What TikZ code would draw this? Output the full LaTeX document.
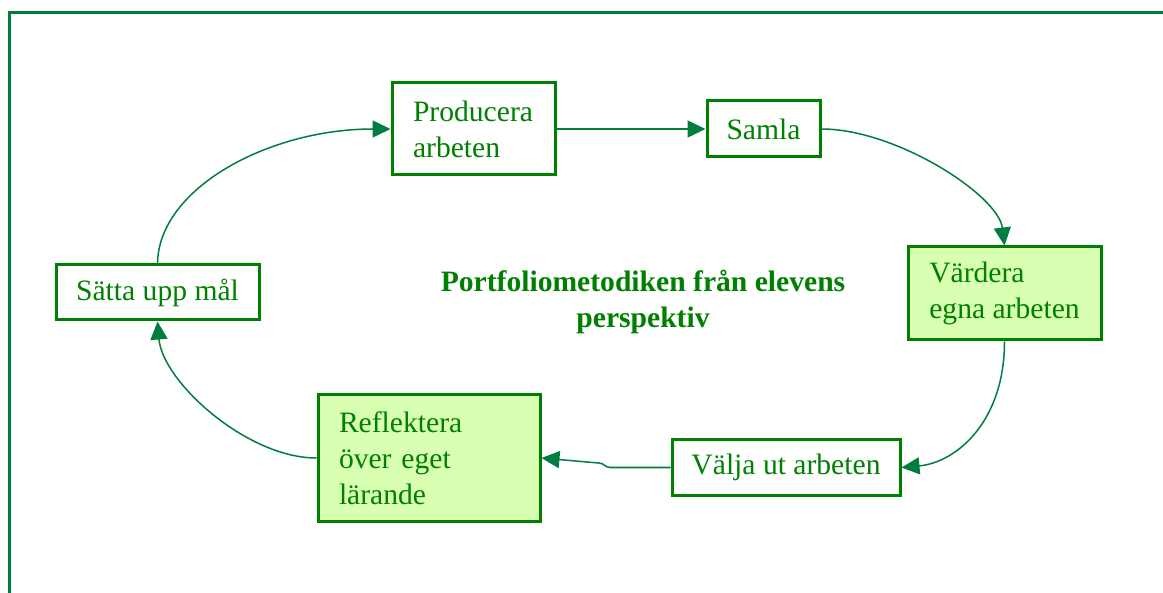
\documentclass[tikz,border=0pt]{standalone}
\usepackage{fontspec}
\setmainfont{Liberation Serif}
\usetikzlibrary{arrows.meta}

\newlength{\du}
\setlength{\du}{0.5pt}

\definecolor{boxcolor}{rgb}{0.000000, 0.501961, 0.000000}
\definecolor{linecolor}{rgb}{0.000000, 0.490196, 0.247059}
\definecolor{fillcolor}{rgb}{0.850980, 1.000000, 0.701961}

\tikzset{
  stepbox/.style={draw=boxcolor, line width=3\du, text=boxcolor, inner sep=0pt,
    font=\fontsize{14.8}{18}\selectfont},
  stepfill/.style={stepbox, fill=fillcolor},
  conn/.style={draw=linecolor, line width=0.75pt,
    -{Triangle[length=9pt,width=8.5pt]}},
  frameline/.style={draw=linecolor, line width=1.5pt},
  titletext/.style={text=boxcolor, align=center, inner sep=0pt,
    font=\fontsize{14.8}{18}\selectfont\bfseries},
}

\begin{document}
\begin{tikzpicture}
\pgftransformxscale{1.000000}
\pgftransformyscale{-1.000000}
\useasboundingbox (0\du,0\du) rectangle (1163\du,593\du);
% outer frame
\draw[frameline] (1163\du,13\du)--(9\du,13\du)--(9\du,593\du);
% steps
\node[stepbox, minimum width=163\du, minimum height=92\du, text width=121\du, align=left]
  (prod) at (473.5\du,129\du) {Producera\\arbeten};
\node[stepbox, minimum width=113\du, minimum height=56\du]
  (samla) at (763.5\du,129\du) {Samla};
\node[stepfill, minimum width=193\du, minimum height=93\du, align=left]
  (vard) at (1004.5\du,293.5\du) {Värdera\\egna arbeten};
\node[stepbox, minimum width=228\du, minimum height=55\du]
  (valja) at (786\du,467.5\du) {Välja ut arbeten};
\node[stepfill, minimum width=222\du, minimum height=126\du, text width=180\du, align=left]
  (refl) at (429\du,458\du) {Reflektera\\över eget\\lärande};
\node[stepbox, minimum width=203\du, minimum height=55\du]
  (satta) at (157.5\du,292.5\du) {Sätta upp mål};
% title
\node[titletext] (rubrik) at (643\du,302\du) {Portfoliometodiken från elevens\\perspektiv};
% connectors
\draw[conn] (satta.north) .. controls +(1\du,-75\du) and +(-122\du,0\du) .. (prod.west);
\draw[conn] (prod.east) -- (samla.west);
\draw[conn] (samla.east) .. controls +(75\du,0\du) and +(-6\du,-50\du) .. (vard.north);
\draw[conn] (vard.south) .. controls +(0\du,80\du) and +(55\du,-5\du) .. (valja.east);
\draw[conn] (valja.west) -- ++(-60\du,0\du) .. controls +(-6\du,0\du) and +(6\du,0\du) .. ++(-12\du,-4.5\du) -- (refl.east);
\draw[conn] (refl.west) .. controls +(-70\du,0\du) and +(5\du,60\du) .. (satta.south);
\end{tikzpicture}
\end{document}
